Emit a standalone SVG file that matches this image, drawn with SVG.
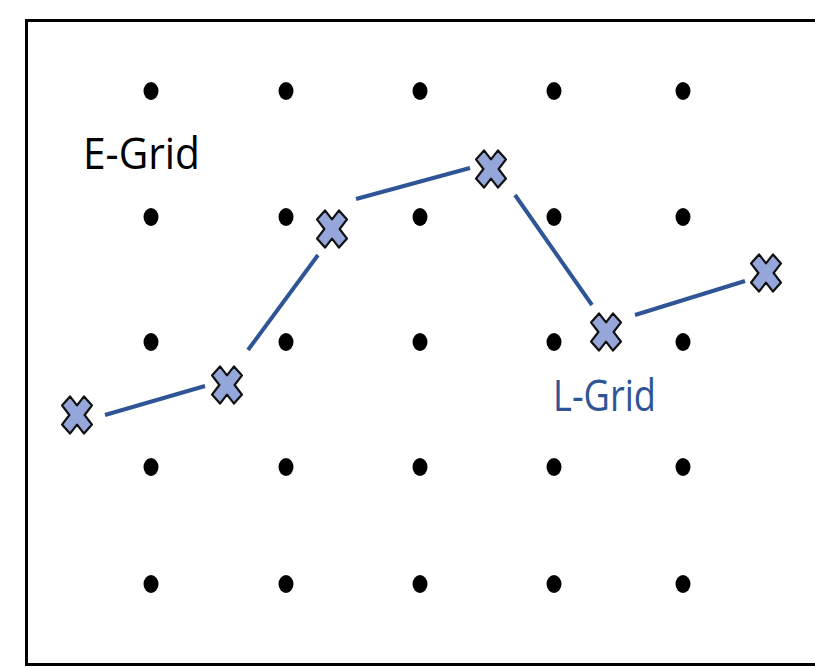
<svg xmlns="http://www.w3.org/2000/svg" width="815" height="667" viewBox="0 0 815 667">
<defs>
<style>
.dot{fill:#000}
.conn{stroke:#2F5597;stroke-width:4;stroke-linecap:butt;fill:none}
.xm{fill:#95A6DB;stroke:#111;stroke-width:2.2;stroke-linejoin:round}
.lbl{font-family:"Open Sans","Liberation Sans",sans-serif;font-size:43px}
</style>
<polygon id="xmark" class="xm" points="7.0,-18.6 15.0,-9.6 7.6,0 15.0,9.6 7.0,18.6 0,9.6 -7.0,18.6 -15.0,9.6 -7.6,0 -15.0,-9.6 -7.0,-18.6 0,-9.6"/>
</defs>
<rect x="0" y="0" width="815" height="667" fill="#fff"/>
<rect id="frame" x="26.5" y="20.5" width="800" height="644" fill="none" stroke="#000" stroke-width="3"/>
<g id="e-grid">
<ellipse class="dot" cx="151" cy="91" rx="7.5" ry="9"/><ellipse class="dot" cx="286" cy="91" rx="7.5" ry="9"/><ellipse class="dot" cx="420" cy="91" rx="7.5" ry="9"/><ellipse class="dot" cx="554" cy="91" rx="7.5" ry="9"/><ellipse class="dot" cx="683" cy="91" rx="7.5" ry="9"/>
<ellipse class="dot" cx="151" cy="217" rx="7.5" ry="9"/><ellipse class="dot" cx="286" cy="217" rx="7.5" ry="9"/><ellipse class="dot" cx="420" cy="217" rx="7.5" ry="9"/><ellipse class="dot" cx="554" cy="217" rx="7.5" ry="9"/><ellipse class="dot" cx="683" cy="217" rx="7.5" ry="9"/>
<ellipse class="dot" cx="151" cy="342" rx="7.5" ry="9"/><ellipse class="dot" cx="286" cy="342" rx="7.5" ry="9"/><ellipse class="dot" cx="420" cy="342" rx="7.5" ry="9"/><ellipse class="dot" cx="554" cy="342" rx="7.5" ry="9"/><ellipse class="dot" cx="683" cy="342" rx="7.5" ry="9"/>
<ellipse class="dot" cx="151" cy="467" rx="7.5" ry="9"/><ellipse class="dot" cx="286" cy="467" rx="7.5" ry="9"/><ellipse class="dot" cx="420" cy="467" rx="7.5" ry="9"/><ellipse class="dot" cx="554" cy="467" rx="7.5" ry="9"/><ellipse class="dot" cx="683" cy="467" rx="7.5" ry="9"/>
<ellipse class="dot" cx="151" cy="584" rx="7.5" ry="9"/><ellipse class="dot" cx="286" cy="584" rx="7.5" ry="9"/><ellipse class="dot" cx="420" cy="584" rx="7.5" ry="9"/><ellipse class="dot" cx="554" cy="584" rx="7.5" ry="9"/><ellipse class="dot" cx="683" cy="584" rx="7.5" ry="9"/>
</g>
<g id="connectors">
<line class="conn" x1="105" y1="415" x2="205" y2="386"/>
<line class="conn" x1="248" y1="350" x2="318" y2="255"/>
<line class="conn" x1="356" y1="199" x2="470" y2="168"/>
<line class="conn" x1="515" y1="195" x2="592" y2="305"/>
<line class="conn" x1="635" y1="315" x2="745" y2="281"/>
</g>
<g id="l1"><use href="#xmark" x="77" y="415"/></g>
<g id="l2"><use href="#xmark" x="227" y="385"/></g>
<g id="l3"><use href="#xmark" x="332" y="229"/></g>
<g id="l4"><use href="#xmark" x="491" y="169"/></g>
<g id="l5"><use href="#xmark" x="606" y="332"/></g>
<g id="l6"><use href="#xmark" x="766" y="273"/></g>
<g id="label-e"><text class="lbl" x="83" y="169" fill="#000" textLength="117" lengthAdjust="spacingAndGlyphs">E-Grid</text></g>
<g id="label-l"><text class="lbl" x="553" y="411" fill="#2F5597" textLength="103" lengthAdjust="spacingAndGlyphs">L-Grid</text></g>
</svg>
